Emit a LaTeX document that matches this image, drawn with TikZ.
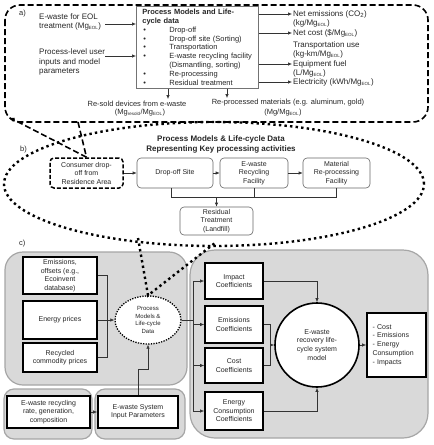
\documentclass[tikz,border=0pt]{standalone}
\usepackage{fontspec}
\setmainfont{Liberation Sans}
\usetikzlibrary{arrows.meta,shapes.geometric,calc}
\newcommand\mysub[1]{\textsubscript{\fontsize{4.5}{5}\selectfont #1}}
\begin{document}
\begin{tikzpicture}[x=1pt,y=-1pt,
 txt/.style={font=\fontsize{7.5}{9.5}\selectfont, inner sep=1pt, text=black!85},
 txtb/.style={font=\fontsize{8}{9.8}\selectfont, inner sep=1pt, text=black!85},
 arr/.style={-{Latex[length=4pt,width=3.4pt]}, line width=0.6pt, draw=black!80},
 ln/.style={line width=0.6pt, draw=black!80},
 bbox/.style={draw=black!60, line width=0.6pt, rounded corners=4pt, align=center, font=\fontsize{7}{8.5}\selectfont, text=black!85, inner sep=1pt},
 cbox/.style={draw=black, line width=1.6pt, fill=white, align=center, font=\fontsize{7}{8.5}\selectfont, text=black!85, inner sep=1pt},
 panel/.style={fill=black!15, draw=black!35, line width=1.2pt},
 bigdot/.style={line width=2.4pt, dash pattern=on 2.4pt off 3.2pt},
 dashl/.style={line width=1.6pt, dash pattern=on 6pt off 3pt},
]
\useasboundingbox (0,0) rectangle (434,445);

% ---------- section a ----------
\draw[dashl, rounded corners=15pt] (5,5) rectangle (428,122);
\node[txt, anchor=west] (la) at (18,14) {a)};
\node[txtb, anchor=west, align=left] (ewin) at (38,22) {E-waste for EOL\\treatment (Mg\mysub{EOL})};
\node[txtb, anchor=west, align=left] (pin) at (38,62) {Process-level user\\inputs and model\\parameters};
\node[draw=black!55, line width=0.7pt, anchor=north west, inner xsep=6pt, inner ysep=3pt, text width=110pt, align=left, font=\fontsize{7.5}{8.8}\selectfont, text=black!85] (pm) at (136,6)
 {\makebox[\linewidth][s]{\textbf{Process Models and Life-}}\\
  \textbf{cycle data}\\
  \hspace*{1pt}\makebox[26pt][l]{\textbullet}Drop-off\\
  \hspace*{1pt}\makebox[26pt][l]{\textbullet}Drop-off site (Sorting)\\
  \hspace*{1pt}\makebox[26pt][l]{\textbullet}Transportation\\
  \hspace*{1pt}\makebox[26pt][l]{\textbullet}E-waste recycling facility\\
  \hspace*{27pt}(Dismantling, sorting)\\
  \hspace*{1pt}\makebox[26pt][l]{\textbullet}Re-processing\\
  \hspace*{1pt}\makebox[26pt][l]{\textbullet}Residual treatment};
\coordinate (ain1) at (105,24);
\coordinate (ain2) at (105,56);
\draw[arr] (ain1) -- (ain1 -| pm.west);
\draw[arr] (ain2) -- (ain2 -| pm.west);

\node[txtb, anchor=west] (o1a) at (292,14) {Net emissions (CO\textsubscript{2})};
\node[txtb, anchor=west] (o1b) at (292,23) {(kg/Mg\mysub{EOL})};
\node[txtb, anchor=west] (o2) at (292,33) {Net cost (\$/Mg\mysub{EOL})};
\node[txtb, anchor=west] (o3a) at (292,45) {Transportation use};
\node[txtb, anchor=west] (o3b) at (292,54) {(kg-km/Mg\mysub{EOL})};
\node[txtb, anchor=west] (o4a) at (292,64) {Equipment fuel};
\node[txtb, anchor=west] (o4b) at (292,73) {(L/Mg\mysub{EOL})};
\node[txtb, anchor=west] (o5) at (292,82) {Electricity (kWh/Mg\mysub{EOL})};
\draw[arr] (pm.east |- o1a.west) -- (o1a.west);
\draw[arr] (pm.east |- o2.west) -- (o2.west);
\draw[arr] (pm.east |- o4a.west) -- (o4a.west);
\draw[arr] (pm.east |- o5.west) -- (o5.west);

\node[txt] (rs1) at (137,104) {Re-sold devices from e-waste};
\node[txt] (rs2) at (140,113) {(Mg\mysub{resold}/Mg\mysub{EOL})};
\node[txt] (rp1) at (288,103) {Re-processed materials (e.g. aluminum, gold)};
\node[txt] (rp2) at (283,113) {(Mg/Mg\mysub{EOL})};
\coordinate (ab1) at (168,99);
\coordinate (ab2) at (227,98);
\draw[arr] (pm.south -| ab1) -- (ab1);
\draw[arr] (pm.south -| ab2) -- (ab2);

% ---------- section b ----------
\draw[bigdot] (214,184) ellipse [x radius=210pt, y radius=62pt];
\node[txt, anchor=west] (lb) at (19,150) {b)};
\node[font=\bfseries\fontsize{8}{10}\selectfont, align=center, text=black!85] (btitle) at (221,144) {Process Models \& Life-cycle Data\\Representing Key processing activities};
\node[bbox, draw=black, dash pattern=on 4pt off 2pt, line width=1.5pt, minimum width=73pt, minimum height=30pt] (cons) at (86.5,173) {Consumer drop-\\off from\\Residence Area};
\node[bbox, minimum width=76pt, minimum height=30pt] (drop) at (175,173) {Drop-off Site};
\node[bbox, minimum width=68pt, minimum height=30pt] (rec) at (254,173) {E-waste\\Recycling\\Facility};
\node[bbox, minimum width=67pt, minimum height=30pt] (mat) at (336.5,173) {Material\\Re-processing\\Facility};
\node[bbox, minimum width=73pt, minimum height=28pt] (res) at (216.5,221) {Residual\\Treatment\\(Landfill)};
\draw[arr] (cons) -- (drop);
\draw[arr] (drop) -- (rec);
\draw[arr] (rec) -- (mat);
\coordinate (hb) at (0,197);
\draw[ln] ([xshift=-4pt]drop.south) -- ([xshift=-4pt]drop.south |- hb) -| (mat.south);
\draw[ln] (rec.south) -- (rec.south |- hb);
\draw[arr] (res.north |- hb) -- (res.north);

\coordinate (acorner) at (9.5,117.5);
\coordinate (abot) at (78,122);
\draw[dashl, -{Latex[length=5pt,width=4.5pt]}] (cons.north) -- (acorner);
\draw[dashl] (abot) -- (cons.north);

% ---------- section c ----------
\node[txt, anchor=west] (lc) at (18,244) {c)};
\draw[panel, rounded corners=18pt] (5,252) rectangle (187,385);
\draw[panel, rounded corners=25pt] (190,250) rectangle (428,438);
\draw[panel, rounded corners=10pt] (4,389) rectangle (92,439);
\draw[panel, rounded corners=10pt] (95,389) rectangle (185,439);

\node[cbox, minimum width=74pt, minimum height=37pt] (emis) at (60,275.5) {Emissions,\\offsets (e.g.,\\Ecoinvent\\database)};
\node[cbox, minimum width=74pt, minimum height=38pt] (energy) at (60,320) {Energy prices};
\node[cbox, minimum width=74pt, minimum height=29pt] (recyc) at (60,357.5) {Recycled\\commodity prices};
\node[cbox, minimum width=83pt, minimum height=32pt] (rate) at (48.5,412) {E-waste recycling\\rate, generation,\\composition};
\node[cbox, minimum width=80pt, minimum height=32pt] (sysin) at (138,412) {E-waste System\\Input Parameters};
\node[ellipse, draw=black, line width=1.3pt, dash pattern=on 1.3pt off 1.3pt, fill=white, minimum width=66pt, minimum height=48pt, inner sep=0pt, align=center, font=\fontsize{6}{7.5}\selectfont, text=black!85] (pmc) at (148,320) {Process\\Models \&\\Life-cycle\\Data};

\node[cbox, minimum width=58pt, minimum height=36pt] (impact) at (234,281) {Impact\\Coefficients};
\node[cbox, minimum width=58pt, minimum height=37pt] (emco) at (234,324.5) {Emissions\\Coefficients};
\node[cbox, minimum width=58pt, minimum height=35pt] (cost) at (234,365.5) {Cost\\Coefficients};
\node[cbox, minimum width=58pt, minimum height=38pt] (enco) at (234,411) {Energy\\Consumption\\Coefficients};
\node[circle, draw=black, line width=1.6pt, fill=white, minimum size=84pt, inner sep=0pt, align=center, font=\fontsize{7}{8.8}\selectfont, text=black!85] (model) at (317,345) {E-waste\\recovery life-\\cycle system\\model};
\node[cbox, minimum width=59pt, minimum height=64pt, text width=48pt, align=left, inner xsep=5.5pt, font=\fontsize{7}{8.8}\selectfont] (out) at (396.5,345) {- Cost\\- Emissions\\- Energy\\Consumption\\- Impacts};

\coordinate (cx) at (107,0);
\draw[ln] (emis.east) -| (cx |- recyc.east) -- (recyc.east);
\draw[arr] (energy.east) -- (pmc.west);
\draw[arr] (rate) -- (sysin);
\draw[arr] (sysin.north) -- ++(0,-26) -| (pmc.south);
\coordinate (vx) at (193,0);
\draw[ln] (pmc.east) -- (pmc.east -| vx);
\draw[ln] (vx |- impact.west) -- (vx |- enco.west);
\draw[arr] (vx |- impact.west) -- (impact.west);
\draw[arr] (vx |- emco.west) -- (emco.west);
\draw[arr] (vx |- cost.west) -- (cost.west);
\draw[arr] (vx |- enco.west) -- (enco.west);
\draw[arr] (impact.east) -| (model.north);
\coordinate (vx2) at (270,0);
\draw[ln] (emco.east) -| (vx2 |- cost.east) -- (cost.east);
\draw[arr] (vx2 |- model.west) -- (model.west);
\draw[arr] (enco.east) -| (model.south);
\draw[arr] (model) -- (out);

\coordinate (d1) at (138,238);
\coordinate (d2) at (215,243);
\draw[bigdot] (d1) -- (pmc.north) -- (d2);
\end{tikzpicture}
\end{document}
